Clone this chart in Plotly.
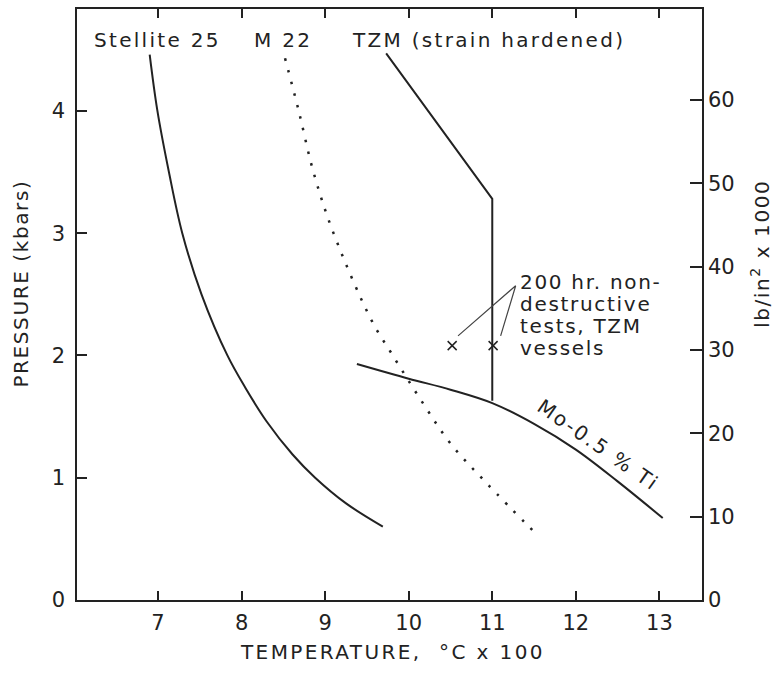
import plotly.graph_objects as go

# ---- data (temperature in hundreds of degC, pressure in kbar) ----
stellite_T = [6.90, 6.99, 7.13, 7.29, 7.52, 7.83, 8.05, 8.30, 8.61, 8.88, 9.25, 9.69]
stellite_P = [4.46, 4.01, 3.50, 3.00, 2.50, 2.00, 1.73, 1.46, 1.19, 1.00, 0.79, 0.60]

m22_T = [8.52, 8.68, 8.86, 9.10, 9.56, 9.80, 10.17, 10.50, 10.94, 11.54]
m22_P = [4.43, 4.01, 3.50, 3.00, 2.28, 2.01, 1.61, 1.28, 0.95, 0.53]

tzm_T = [9.73, 10.74, 10.86, 11.00, 11.00]
tzm_P = [4.47, 3.53, 3.41, 3.28, 1.63]

moti_T = [9.38, 10.00, 10.50, 11.00, 11.50, 12.00, 12.50, 13.04]
moti_P = [1.93, 1.81, 1.72, 1.61, 1.44, 1.23, 0.97, 0.67]

test_T = [10.52, 11.01]
test_P = [2.08, 2.08]

leader_T = [10.59, 11.28, 11.10]
leader_P = [2.16, 2.57, 2.16]

x_ticks = [7, 8, 9, 10, 11, 12, 13]
y_ticks = [0, 1, 2, 3, 4]
y2_ticks = [0, 10, 20, 30, 40, 50, 60]
KBAR_TO_KSI = 14.67

INK = "#222222"
FONT = "DejaVu Sans"


def spaced(s, ls=2):
    return '<span style="letter-spacing:%spx">%s</span>' % (ls, s)


fig = go.Figure()
fig.add_trace(go.Scatter(x=stellite_T, y=stellite_P, mode="lines",
                         line=dict(color=INK, width=2, shape="spline", smoothing=1.0),
                         showlegend=False, hoverinfo="skip"))
fig.add_trace(go.Scatter(x=m22_T, y=m22_P, mode="lines",
                         line=dict(color=INK, width=2.5, dash="2.5px,9.5px", shape="spline", smoothing=1.0),
                         showlegend=False, hoverinfo="skip"))
fig.add_trace(go.Scatter(x=tzm_T, y=tzm_P, mode="lines",
                         line=dict(color=INK, width=2),
                         showlegend=False, hoverinfo="skip"))
fig.add_trace(go.Scatter(x=moti_T, y=moti_P, mode="lines",
                         line=dict(color=INK, width=2, shape="spline", smoothing=1.0),
                         showlegend=False, hoverinfo="skip"))
fig.add_trace(go.Scatter(x=leader_T, y=leader_P, mode="lines",
                         line=dict(color="#444444", width=1.2),
                         showlegend=False, hoverinfo="skip"))
fig.add_trace(go.Scatter(x=test_T, y=test_P, mode="markers",
                         marker=dict(symbol="x-thin", size=9, line=dict(color=INK, width=1.5)),
                         showlegend=False, hoverinfo="skip"))
# invisible trace to activate right axis
fig.add_trace(go.Scatter(x=[x_ticks[0]], y=[y2_ticks[0]], yaxis="y2", mode="markers",
                         marker=dict(opacity=0), showlegend=False, hoverinfo="skip"))

ymax = 4.833
TF = dict(size=21)
fig.update_layout(
    width=778, height=674,
    margin=dict(l=77, r=76, t=7, b=74),
    paper_bgcolor="white", plot_bgcolor="white",
    font=dict(family=FONT, color=INK, size=20),
    xaxis=dict(range=[6.03, 13.51], tickvals=x_ticks, ticks="inside", ticklen=9,
               tickwidth=1.5, tickcolor=INK, showline=True, linecolor=INK, linewidth=1.5,
               mirror="ticks", showgrid=False, zeroline=False,
               tickfont=TF, ticklabelstandoff=3),
    yaxis=dict(range=[0, ymax], tickvals=y_ticks, ticks="inside", ticklen=10,
               tickwidth=1.5, tickcolor=INK, showline=True, linecolor=INK, linewidth=1.5,
               showgrid=False, zeroline=False, tickfont=TF, ticklabelstandoff=6),
    yaxis2=dict(range=[0, ymax * KBAR_TO_KSI], tickvals=y2_ticks, ticks="inside", ticklen=12,
                tickwidth=1.5, tickcolor=INK, showline=True, linecolor=INK, linewidth=1.5,
                overlaying="y", side="right", showgrid=False, zeroline=False,
                tickfont=TF, ticklabelstandoff=0),
)

ann = [
    dict(text="Stellite 25", x=6.99, y=4.58),
    dict(text="M 22", x=8.49, y=4.58),
    dict(text="TZM (strain hardened)", x=10.95, y=4.58),
]
for a in ann:
    fig.add_annotation(xref="x", yref="y", x=a["x"], y=a["y"], text=spaced(a["text"], 2.3),
                       showarrow=False, xanchor="center", yanchor="middle", font=dict(size=20))

for txt, yy in [("200 hr. non-", 2.60), ("destructive", 2.42), ("tests, TZM", 2.24), ("vessels", 2.06)]:
    fig.add_annotation(xref="x", yref="y", x=11.31, y=yy, text=spaced(txt, 1.7), xanchor="left",
                       yanchor="middle", showarrow=False, font=dict(size=20))

fig.add_annotation(xref="x", yref="y", x=12.27, y=1.27, text=spaced("Mo-0.5 % Ti", 2.3), textangle=35,
                   showarrow=False, xanchor="center", yanchor="middle", font=dict(size=20))

fig.add_annotation(xref="paper", yref="paper", x=0.504, y=-0.088,
                   text=spaced("TEMPERATURE,  °C x 100", 2.4),
                   showarrow=False, font=dict(size=20), xanchor="center", yanchor="middle")
fig.add_annotation(xref="paper", yref="paper", x=-0.090, y=0.535, text=spaced("PRESSURE (kbars)", 1.6),
                   textangle=-90, showarrow=False, font=dict(size=20), xanchor="center", yanchor="middle")
fig.add_annotation(xref="paper", yref="paper", x=1.094, y=0.585,
                   text=spaced("lb/in<sup>2</sup> x 1000", 1.6),
                   textangle=-90, showarrow=False, font=dict(size=20), xanchor="center", yanchor="middle")

fig.write_html("out.html", config={"displayModeBar": False},
               post_script="document.body.style.margin='0';")
